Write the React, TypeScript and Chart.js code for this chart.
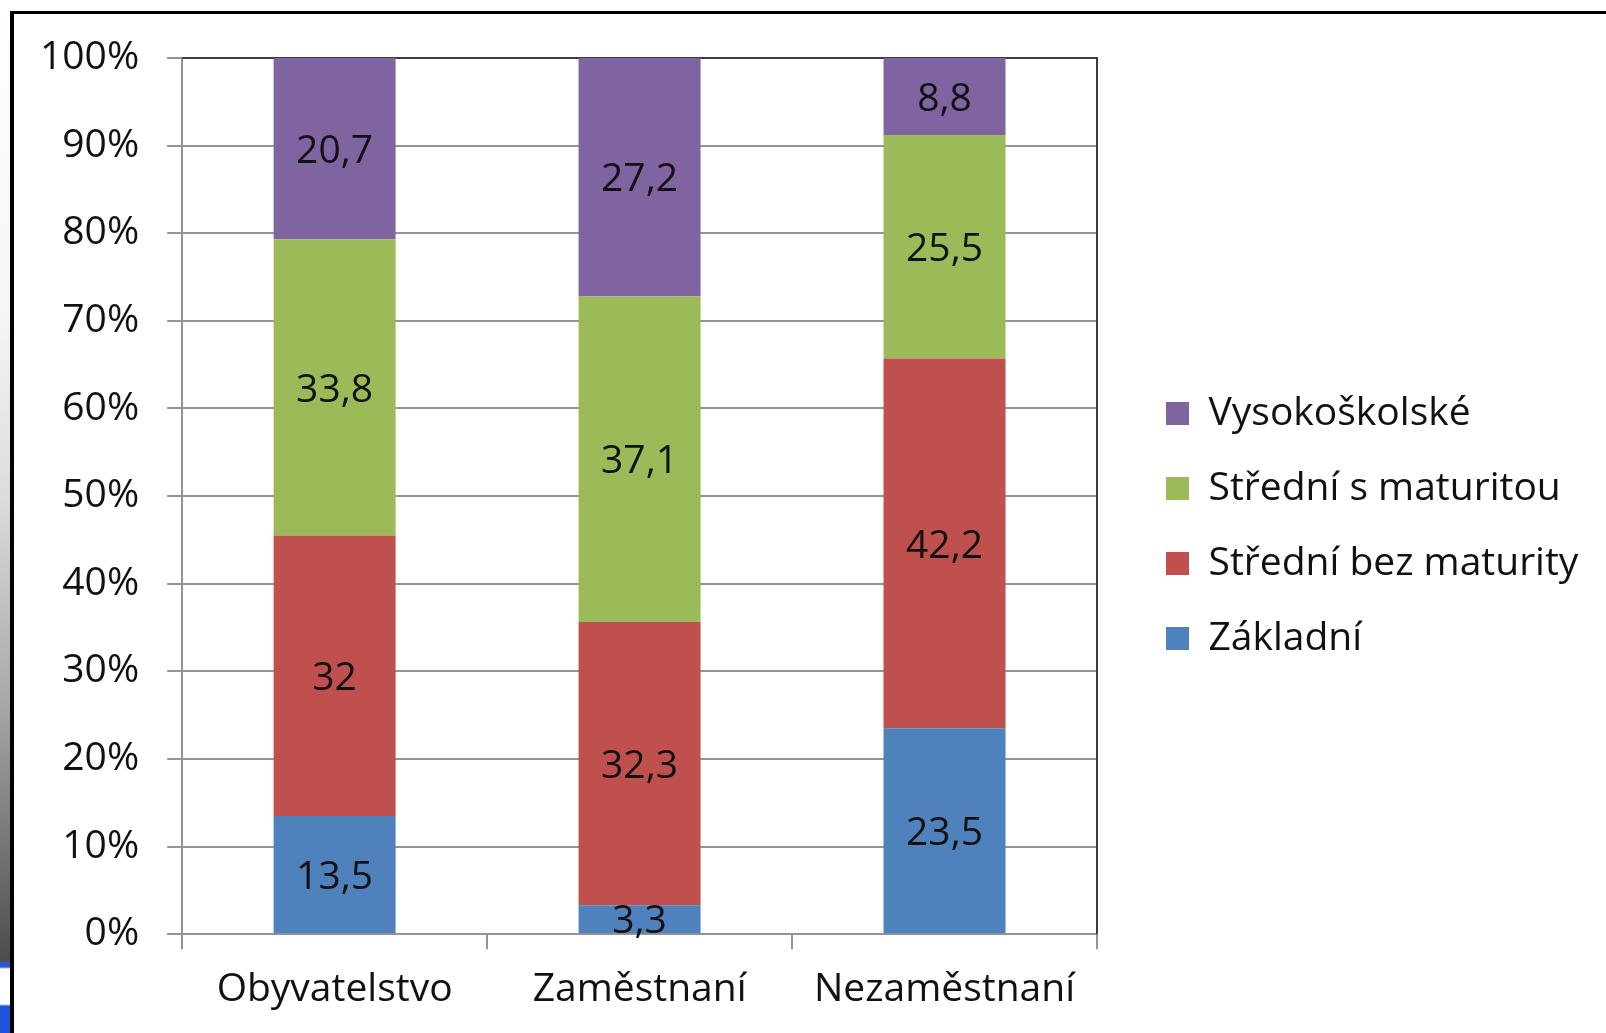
import { useEffect, useRef } from 'react';
import { Chart, registerables } from 'chart.js';

Chart.register(...registerables);

const categories = ['Obyvatelstvo', 'Zaměstnaní', 'Nezaměstnaní'];
const seriesNames = ['Základní', 'Střední bez maturity', 'Střední s maturitou', 'Vysokoškolské'];
const zakladni = [13.5, 3.3, 23.5];
const stredniBezMaturity = [32, 32.3, 42.2];
const stredniSMaturitou = [33.8, 37.1, 25.5];
const vysokoskolske = [20.7, 27.2, 8.8];
const seriesColors = ['#4F81BD', '#C0504D', '#9BBB59', '#8064A2'];
const yTickLabels = ['0%', '10%', '20%', '30%', '40%', '50%', '60%', '70%', '80%', '90%', '100%'];

const FONT = "'Open Sans', sans-serif";
const FONT_SIZE = 39;
const TEXT = '#111111';
const GRID = '#949494';
const LEGEND_WIDTH = 476;
const LABEL_DY = 3;

export default function App() {
  const ref = useRef<HTMLCanvasElement>(null);

  useEffect(() => {
    const canvas = ref.current;
    if (!canvas) return;
    const seriesValues = [zakladni, stredniBezMaturity, stredniSMaturitou, vysokoskolske];
    const totals = categories.map((_, j) => seriesValues.reduce((s, arr) => s + arr[j], 0));

    const datasets = seriesValues.map((vals, i) => ({
      label: seriesNames[i],
      data: vals.map((v, j) => (v / totals[j]) * 100),
      backgroundColor: seriesColors[i],
      borderWidth: 0,
      barPercentage: 0.4,
      categoryPercentage: 1,
    }));

    const valueLabels = {
      id: 'valueLabels',
      afterDatasetsDraw(chart: any) {
        const ctx = chart.ctx;
        ctx.save();
        ctx.font = `${FONT_SIZE}px ${FONT}`;
        ctx.fillStyle = TEXT;
        ctx.textAlign = 'center';
        ctx.textBaseline = 'middle';
        chart.data.datasets.forEach((_ds: any, i: number) => {
          const meta = chart.getDatasetMeta(i);
          meta.data.forEach((bar: any, j: number) => {
            const { x, y, base } = bar.getProps(['x', 'y', 'base'], true);
            const v = seriesValues[i][j];
            ctx.fillText(String(v).replace('.', ','), x, (y + base) / 2 + LABEL_DY);
          });
        });
        ctx.restore();
      },
    };

    const plotBorder = {
      id: 'plotBorder',
      beforeDatasetsDraw(chart: any) {
        const { ctx, chartArea } = chart;
        const { left, top, right, bottom } = chartArea;
        ctx.save();
        ctx.strokeStyle = '#3c3c3c';
        ctx.lineWidth = 2;
        ctx.beginPath();
        ctx.moveTo(left, top);
        ctx.lineTo(right, top);
        ctx.lineTo(right, bottom);
        ctx.stroke();
        ctx.restore();
      },
    };

    const legendWidth = {
      id: 'legendWidth',
      beforeLayout(chart: any) {
        const legend = chart.legend;
        if (legend && !legend.__fixedWidth) {
          const orig = legend.fit.bind(legend);
          legend.fit = function () {
            orig();
            this.width = LEGEND_WIDTH;
          };
          legend.__fixedWidth = true;
        }
      },
    };

    const font = { family: FONT, size: FONT_SIZE };

    const chart = new Chart(canvas, {
      type: 'bar',
      data: { labels: categories, datasets },
      options: {
        responsive: false,
        animation: false,
        devicePixelRatio: 1,
        layout: { padding: { left: 12, top: 58, right: 0, bottom: 3 } },
        plugins: {
          legend: {
            position: 'right',
            fullSize: false,
            reverse: true,
            title: {
              display: true,
              text: '',
              font: { size: 10, lineHeight: 1 },
              padding: { top: 50, bottom: 0 },
            },
            labels: {
              boxWidth: 23,
              boxHeight: 23,
              padding: 36,
              color: TEXT,
              font,
            },
          },
          tooltip: { enabled: false },
        },
        scales: {
          x: {
            stacked: true,
            offset: true,
            grid: {
              offset: true,
              drawOnChartArea: false,
              drawTicks: true,
              tickLength: 15,
              color: GRID,
              lineWidth: 2,
            },
            border: { color: GRID, width: 2 },
            ticks: { color: TEXT, font, padding: 17, maxRotation: 0 },
          },
          y: {
            stacked: true,
            min: 0,
            max: 100,
            grid: { color: GRID, lineWidth: 2, tickLength: 15 },
            border: { color: GRID, width: 2 },
            ticks: {
              stepSize: 10,
              padding: 28,
              color: TEXT,
              font,
              callback: (v: any) => yTickLabels[Math.round(Number(v) / 10)],
            },
          },
          yGap: {
            position: 'right',
            display: true,
            grid: { display: false, drawTicks: false },
            border: { display: false },
            ticks: { display: false },
            afterFit: (s: any) => {
              s.width = 33;
            },
          },
        },
      } as any,
      plugins: [valueLabels, plotBorder, legendWidth],
    });

    return () => chart.destroy();
  }, []);

  return (
    <div style={{ position: 'absolute', left: 0, top: 0, width: 1606, height: 1033, background: '#fff', overflow: 'hidden' }}>
      <div
        style={{
          position: 'absolute',
          left: 0,
          top: 0,
          width: 10,
          height: 1033,
          background:
            'linear-gradient(to bottom, #ffffff 0%, #f6f6f6 30%, #dcdcdc 48%, #a8a8a8 68%, #6a6a6a 85%, #4c4c4c 93%, #2a5bd0 93.2%, #2a5bd0 93.6%, #ffffff 93.8%, #ffffff 97.2%, #1f56d8 97.4%, #1f56d8 100%)',
        }}
      />
      <div
        style={{
          position: 'absolute',
          left: 10,
          top: 11,
          right: 0,
          bottom: 0,
          borderLeft: '4px solid #000',
          borderTop: '3px solid #000',
        }}
      />
      <canvas
        ref={ref}
        width={1606}
        height={1033}
        style={{ position: 'absolute', left: 0, top: 0, width: 1606, height: 1033 }}
      />
    </div>
  );
}
